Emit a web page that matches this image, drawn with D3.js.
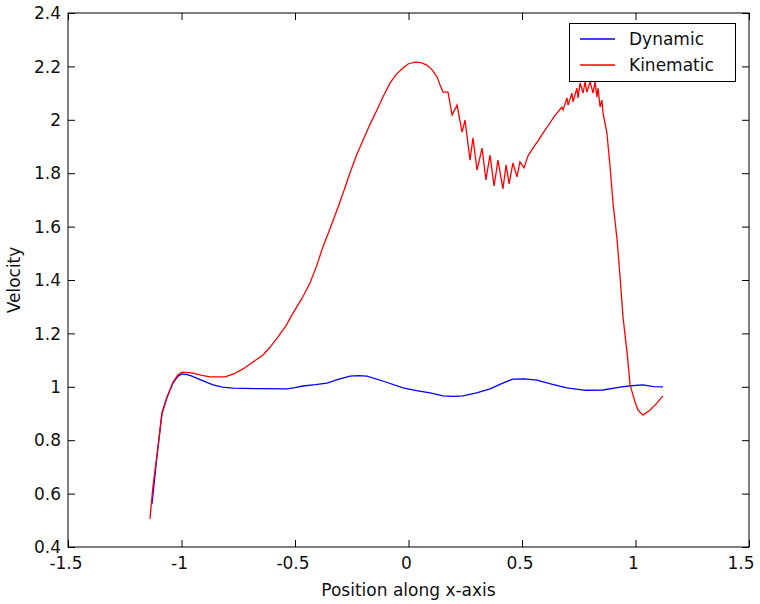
<!DOCTYPE html>
<html>
<head>
<meta charset="utf-8">
<script src="https://cdn.jsdelivr.net/npm/d3@7"></script>
<style>
  body { margin: 0; background: #fff; }
  svg text { font-family: "DejaVu Sans", sans-serif; fill: #111; }
</style>
</head>
<body>
<svg id="chart" width="760" height="604"></svg>
<script>
// Position along x-axis, velocity pairs
const dynamicSeries = [
  [-1.13, 0.56], [-1.108, 0.74], [-1.086, 0.90], [-1.064, 0.96], [-1.037, 1.015],
  [-1.015, 1.040], [-0.998, 1.048], [-0.975, 1.046], [-0.954, 1.040], [-0.91, 1.024],
  [-0.861, 1.007], [-0.82, 0.999], [-0.773, 0.995], [-0.65, 0.993], [-0.535, 0.992],
  [-0.50, 0.997], [-0.465, 1.003], [-0.41, 1.008], [-0.359, 1.014], [-0.31, 1.028],
  [-0.258, 1.040], [-0.22, 1.042], [-0.183, 1.040], [-0.10, 1.018], [-0.024, 0.996],
  [0.035, 0.986], [0.095, 0.977], [0.152, 0.966], [0.20, 0.964], [0.240, 0.966],
  [0.30, 0.977], [0.359, 0.992], [0.41, 1.012], [0.460, 1.029], [0.51, 1.030],
  [0.566, 1.025], [0.63, 1.010], [0.698, 0.996], [0.78, 0.987], [0.857, 0.988],
  [0.932, 0.999], [0.98, 1.004], [1.033, 1.007], [1.08, 1.001], [1.121, 1.000]
];

const kinematicSeries = [
  [-1.139, 0.505], [-1.126, 0.625], [-1.108, 0.745], [-1.086, 0.902], [-1.064, 0.962],
  [-1.037, 1.018], [-1.015, 1.045], [-0.998, 1.055], [-0.954, 1.052], [-0.91, 1.043],
  [-0.874, 1.037], [-0.808, 1.037], [-0.77, 1.048], [-0.729, 1.067], [-0.69, 1.090],
  [-0.641, 1.119], [-0.61, 1.148], [-0.575, 1.187], [-0.54, 1.228], [-0.509, 1.276],
  [-0.47, 1.330], [-0.434, 1.389], [-0.405, 1.452], [-0.377, 1.524], [-0.345, 1.594],
  [-0.315, 1.662], [-0.285, 1.733], [-0.258, 1.801], [-0.230, 1.865], [-0.200, 1.924],
  [-0.170, 1.982], [-0.139, 2.037], [-0.110, 2.090], [-0.081, 2.138], [-0.052, 2.172],
  [-0.024, 2.194], [0.000, 2.210], [0.029, 2.216], [0.055, 2.214], [0.081, 2.205],
  [0.105, 2.186], [0.126, 2.160], [0.140, 2.128],
  [0.152, 2.104], [0.174, 2.104], [0.192, 2.018], [0.214, 2.055], [0.236, 1.954],
  [0.249, 1.999], [0.271, 1.849], [0.284, 1.932], [0.302, 1.812], [0.324, 1.894],
  [0.341, 1.775], [0.359, 1.868], [0.377, 1.752], [0.394, 1.849], [0.416, 1.741],
  [0.430, 1.831], [0.443, 1.760], [0.460, 1.838], [0.478, 1.786], [0.491, 1.842],
  [0.509, 1.820], [0.526, 1.864], [0.548, 1.894], [0.570, 1.920], [0.593, 1.951],
  [0.623, 1.988], [0.640, 2.010], [0.654, 2.025], [0.676, 2.048], [0.681, 2.037],
  [0.698, 2.082], [0.703, 2.055],
  [0.720, 2.100], [0.725, 2.067], [0.742, 2.119], [0.747, 2.082], [0.756, 2.138],
  [0.769, 2.100], [0.778, 2.142], [0.786, 2.104], [0.800, 2.142], [0.813, 2.100],
  [0.822, 2.142], [0.830, 2.085], [0.835, 2.119], [0.844, 2.048], [0.852, 2.074],
  [0.857, 2.025], [0.874, 1.951], [0.888, 1.823], [0.901, 1.688], [0.919, 1.550],
  [0.932, 1.411], [0.945, 1.261], [0.963, 1.127], [0.976, 1.007], [0.998, 0.943],
  [1.011, 0.913], [1.033, 0.894], [1.064, 0.913], [1.09, 0.935], [1.121, 0.966]
];

const xTicks = [-1.5, -1, -0.5, 0, 0.5, 1, 1.5];
const yTicks = [0.4, 0.6, 0.8, 1, 1.2, 1.4, 1.6, 1.8, 2, 2.2, 2.4];
const seriesNames = ["Dynamic", "Kinematic"];
const seriesColors = ["#0000ff", "#ff0000"];

const svg = d3.select("#chart");
const margin = { left: 68, right: 749, top: 13, bottom: 547 };
const tickLen = 7;

const x = d3.scaleLinear().domain([-1.5, 1.5]).range([margin.left, margin.right]);
const y = d3.scaleLinear().domain([0.4, 2.4]).range([margin.bottom, margin.top]);

// axes (ticks pointing inward like matlab)
svg.append("g")
  .attr("transform", `translate(0,${margin.bottom})`)
  .call(d3.axisTop(x).tickValues(xTicks).tickSize(tickLen).tickFormat(""));
svg.append("g")
  .attr("transform", `translate(0,${margin.top})`)
  .call(d3.axisBottom(x).tickValues(xTicks).tickSize(tickLen).tickFormat(""));
svg.append("g")
  .attr("transform", `translate(${margin.left},0)`)
  .call(d3.axisRight(y).tickValues(yTicks).tickSize(tickLen).tickFormat(""));
svg.append("g")
  .attr("transform", `translate(${margin.right},0)`)
  .call(d3.axisLeft(y).tickValues(yTicks).tickSize(tickLen).tickFormat(""));
svg.selectAll(".domain").remove();
svg.selectAll(".tick line").attr("stroke", "#000");

svg.append("rect")
  .attr("x", margin.left).attr("y", margin.top)
  .attr("width", margin.right - margin.left).attr("height", margin.bottom - margin.top)
  .attr("fill", "none").attr("stroke", "#000");

// tick labels (the last one is pulled in so it stays on the page)
svg.append("g").selectAll("text")
  .data(xTicks)
  .join("text")
  .attr("x", d => Math.min(x(d) - 2, 741))
  .attr("y", margin.bottom + 22)
  .attr("text-anchor", "middle")
  .attr("font-size", 17)
  .text(d => d);

svg.append("g").selectAll("text")
  .data(yTicks)
  .join("text")
  .attr("x", margin.left - 7)
  .attr("y", d => y(d))
  .attr("dy", "0.36em")
  .attr("text-anchor", "end")
  .attr("font-size", 17)
  .text(d => d);

svg.append("text")
  .attr("x", (margin.left + margin.right) / 2)
  .attr("y", 596)
  .attr("text-anchor", "middle")
  .attr("font-size", 17)
  .text("Position along x-axis");

svg.append("text")
  .attr("transform", `translate(20,${(margin.top + margin.bottom) / 2}) rotate(-90)`)
  .attr("text-anchor", "middle")
  .attr("font-size", 17)
  .text("Velocity");

// lines
const line = d3.line().x(d => x(d[0])).y(d => y(d[1]));
[dynamicSeries, kinematicSeries].forEach((s, i) => {
  svg.append("path")
    .datum(s)
    .attr("fill", "none")
    .attr("stroke", seriesColors[i])
    .attr("stroke-width", 1.3)
    .attr("d", line);
});

// legend
const legend = svg.append("g");
legend.append("rect")
  .attr("x", 569.5).attr("y", 23.5)
  .attr("width", 166).attr("height", 58)
  .attr("fill", "#fff").attr("stroke", "#000");
seriesNames.forEach((name, i) => {
  const ly = 39 + i * 26;
  legend.append("line")
    .attr("x1", 580).attr("x2", 615)
    .attr("y1", ly).attr("y2", ly)
    .attr("stroke", seriesColors[i]).attr("stroke-width", 1.3);
  legend.append("text")
    .attr("x", 629).attr("y", ly)
    .attr("dy", "0.36em")
    .attr("font-size", 17)
    .text(name);
});
</script>
</body>
</html>
